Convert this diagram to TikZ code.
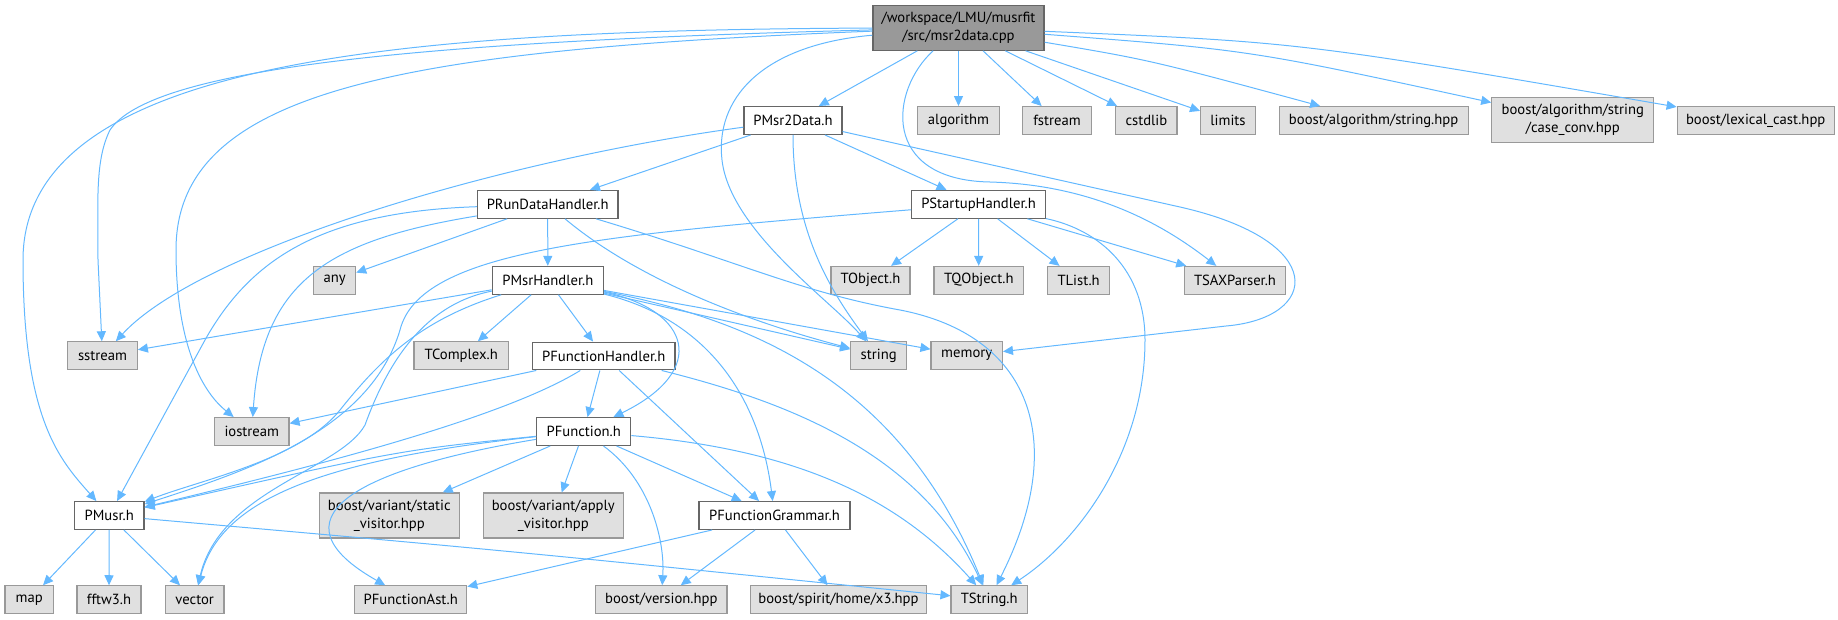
\documentclass[tikz,border=0pt]{standalone}
\usepackage{fontspec}
\setmainfont{PT Sans}
\usetikzlibrary{arrows.meta}
\definecolor{edgec}{HTML}{63B8FF}
\definecolor{bdark}{HTML}{666666}
\definecolor{blight}{HTML}{999999}
\definecolor{fext}{HTML}{E0E0E0}
\definecolor{fmain}{HTML}{999999}
\tikzset{
  base/.style={rectangle, inner sep=0pt, line width=0.9pt, align=center, font=\fontsize{11pt}{13.6pt}\selectfont, minimum height=20.8pt, text=black},
  filebox/.style={base, draw=bdark, fill=white},
  extbox/.style={base, draw=blight, fill=fext},
  mainbox/.style={base, draw=bdark, fill=fmain, minimum height=33.75pt},
  tall/.style={minimum height=33.75pt},
  edge/.style={draw=edgec, line width=0.75pt, -{Triangle[length=7.5pt,width=6.8pt]}}
}
\begin{document}
\begin{tikzpicture}[x=0.75pt,y=-0.75pt]
\useasboundingbox (0,0) rectangle (1838,619);
% row 1
\node[mainbox, minimum width=128.25pt] (main) at (958.5,27.7) {/workspace/LMU/musrfit\\/src/msr2data.cpp};
% row 2
\node[filebox, minimum width=73.5pt] (PMsr2Data) at (793,120.5) {PMsr2Data.h};
\node[extbox, minimum width=61.2pt] (algorithm) at (958.5,120.5) {algorithm};
\node[extbox, minimum width=51.75pt] (fstream) at (1057,120.5) {fstream};
\node[extbox, minimum width=46pt] (cstdlib) at (1146.4,120.5) {cstdlib};
\node[extbox, minimum width=41pt] (limits) at (1228,120.5) {limits};
\node[extbox, minimum width=141.75pt] (bstring) at (1373.6,120.5) {boost/algorithm/string.hpp};
\node[extbox, tall, minimum width=121.5pt] (caseconv) at (1572.8,120.2) {boost/algorithm/string\\/case\_conv.hpp};
\node[extbox, minimum width=117.75pt] (lexical) at (1755.7,120.5) {boost/lexical\_cast.hpp};
% row 3
\node[filebox, minimum width=105.5pt] (PRunDataHandler) at (547.7,204.3) {PRunDataHandler.h};
\node[filebox, minimum width=100.3pt] (PStartupHandler) at (978.5,204.3) {PStartupHandler.h};
% row 4
\node[extbox, minimum width=31.5pt] (any) at (334.6,280.3) {any};
\node[filebox, minimum width=83.25pt] (PMsrHandler) at (547.8,280.3) {PMsrHandler.h};
\node[extbox, minimum width=59.25pt] (TObject) at (870.5,280.3) {TObject.h};
\node[extbox, minimum width=67.1pt] (TQObject) at (978.8,280.3) {TQObject.h};
\node[extbox, minimum width=46.5pt] (TList) at (1078.6,280.3) {TList.h};
\node[extbox, minimum width=76.2pt] (TSAXParser) at (1235,280.3) {TSAXParser.h};
% row 5
\node[extbox, minimum width=52.2pt] (sstream) at (102.5,355.7) {sstream};
\node[extbox, minimum width=70.7pt] (TComplex) at (461.2,355.7) {TComplex.h};
\node[filebox, minimum width=107pt] (PFunctionHandler) at (603.7,356) {PFunctionHandler.h};
\node[extbox, minimum width=42pt] (string) at (878.7,355.7) {string};
\node[extbox, minimum width=53.5pt] (memory) at (966.7,355.7) {memory};
% row 6
\node[extbox, minimum width=55.7pt] (iostream) at (251.8,431.5) {iostream};
\node[filebox, minimum width=70.5pt] (PFunction) at (583.7,431.5) {PFunction.h};
% row 7
\node[filebox, minimum width=52.3pt] (PMusr) at (109.2,515.5) {PMusr.h};
\node[extbox, tall, minimum width=105pt] (staticv) at (389.3,515.5) {boost/variant/static\\\_visitor.hpp};
\node[extbox, tall, minimum width=105pt] (applyv) at (553.3,515.5) {boost/variant/apply\\\_visitor.hpp};
\node[filebox, minimum width=113.25pt] (PFunctionGrammar) at (774.5,515.5) {PFunctionGrammar.h};
% row 8
\node[extbox, minimum width=36.4pt] (map) at (29.3,599.7) {map};
\node[extbox, minimum width=48pt] (fftw) at (109,599.7) {fftw3.h};
\node[extbox, minimum width=44pt] (vector) at (194.7,599.7) {vector};
\node[extbox, minimum width=84pt] (PFunctionAst) at (410.7,599.7) {PFunctionAst.h};
\node[extbox, minimum width=98.6pt] (bversion) at (661.3,599.7) {boost/version.hpp};
\node[extbox, minimum width=132.2pt] (spirit) at (838.5,599.7) {boost/spirit/home/x3.hpp};
\node[extbox, minimum width=57.2pt] (TString) at (989.2,599.7) {TString.h};

% ---- edges from main
\draw[edge] (main) -- (PMsr2Data);
\draw[edge] (main) -- (algorithm);
\draw[edge] (main) -- (fstream);
\draw[edge] (main) -- (cstdlib);
\draw[edge] (main) -- (limits);
\draw[edge] (main) .. controls (1150,60) .. (bstring);
\draw[edge] (main) .. controls (1250,50) .. (caseconv);
\draw[edge] (main) .. controls (1300,42) .. (lexical);
\draw[edge] (main) .. controls (400,30) and (23,60) .. (23,260) .. controls (23,420) and (60,460) .. (PMusr);
\draw[edge] (main) .. controls (400,42) and (150,70) .. (110,130) .. controls (95,160) and (98,200) .. (98,260) -- (sstream);
\draw[edge] (main) .. controls (400,50) and (176,90) .. (176,250) .. controls (176,340) and (200,390) .. (iostream);
\draw[edge] (main) .. controls (760,45) and (715,100) .. (722,160) .. controls (730,230) and (830,300) .. (string);
\draw[edge] (main) .. controls (890,90) and (880,180) .. (990,182) .. controls (1100,185) and (1170,230) .. (TSAXParser);
% ---- PMsr2Data
\draw[edge] (PMsr2Data) -- (PRunDataHandler);
\draw[edge] (PMsr2Data) -- (PStartupHandler);
\draw[edge] (PMsr2Data) .. controls (500,160) and (200,250) .. (sstream);
\draw[edge] (PMsr2Data) .. controls (793,230) and (830,290) .. (string);
\draw[edge] (PMsr2Data) -- (1180,207) .. controls (1330,241) and (1320,318) .. (1226,326) -- (memory);
% ---- PStartupHandler
\draw[edge] (PStartupHandler) -- (TObject);
\draw[edge] (PStartupHandler) -- (TQObject);
\draw[edge] (PStartupHandler) -- (TList);
\draw[edge] (PStartupHandler) -- (TSAXParser);
\draw[edge] (PStartupHandler) .. controls (1100,230) and (1145,270) .. (1145,340) .. controls (1145,450) and (1080,540) .. (TString);
\draw[edge] (PStartupHandler) .. controls (600,235) and (420,250) .. (400,330) .. controls (370,430) and (250,470) .. (PMusr);
% ---- PRunDataHandler
\draw[edge] (PRunDataHandler) -- (any);
\draw[edge] (PRunDataHandler) -- (PMsrHandler);
\draw[edge] (PRunDataHandler) .. controls (320,212) and (250,260) .. (205,340) -- (PMusr);
\draw[edge] (PRunDataHandler) .. controls (330,240) and (262,280) .. (iostream);
\draw[edge] (PRunDataHandler) .. controls (650,290) and (780,330) .. (string);
\draw[edge] (PRunDataHandler) .. controls (740,262) and (800,292) .. (900,310) .. controls (1030,335) and (1070,440) .. (TString);
% ---- PMsrHandler
\draw[edge] (PMsrHandler) -- (sstream);
\draw[edge] (PMsrHandler) -- (TComplex);
\draw[edge] (PMsrHandler) -- (PFunctionHandler);
\draw[edge] (PMsrHandler) -- (string);
\draw[edge] (PMsrHandler) -- (memory);
\draw[edge] (PMsrHandler) .. controls (750,320) and (900,380) .. (TString);
\draw[edge] (PMsrHandler) .. controls (690,310) and (710,370) .. (PFunction);
\draw[edge] (PMsrHandler) .. controls (710,320) and (760,400) .. (PFunctionGrammar);
\draw[edge] (PMsrHandler) .. controls (420,320) and (380,360) .. (340,410) .. controls (300,460) and (200,480) .. (PMusr);
\draw[edge] (PMsrHandler) .. controls (420,305) and (385,370) .. (365,425) .. controls (340,470) and (220,490) .. (vector);
% ---- PFunctionHandler
\draw[edge] (PFunctionHandler) -- (iostream);
\draw[edge] (PFunctionHandler) -- (PFunction);
\draw[edge] (PFunctionHandler) -- (PFunctionGrammar);
\draw[edge] (PFunctionHandler) .. controls (500,420) and (300,470) .. (PMusr);
\draw[edge] (PFunctionHandler) .. controls (780,400) and (920,450) .. (TString);
% ---- PFunction
\draw[edge] (PFunction) .. controls (400,450) .. (PMusr);
\draw[edge] (PFunction) .. controls (320,460) and (220,500) .. (vector);
\draw[edge] (PFunction) .. controls (350,470) and (270,520) .. (PFunctionAst);
\draw[edge] (PFunction) -- (staticv);
\draw[edge] (PFunction) -- (applyv);
\draw[edge] (PFunction) .. controls (650,480) and (665,540) .. (bversion);
\draw[edge] (PFunction) -- (PFunctionGrammar);
\draw[edge] (PFunction) .. controls (800,450) and (900,500) .. (TString);
% ---- PMusr
\draw[edge] (PMusr) -- (map);
\draw[edge] (PMusr) -- (fftw);
\draw[edge] (PMusr) -- (vector);
\draw[edge] (PMusr) .. controls (500,550) .. (TString);
% ---- PFunctionGrammar
\draw[edge] (PFunctionGrammar) -- (PFunctionAst);
\draw[edge] (PFunctionGrammar) -- (bversion);
\draw[edge] (PFunctionGrammar) -- (spirit);
\end{tikzpicture}
\end{document}
